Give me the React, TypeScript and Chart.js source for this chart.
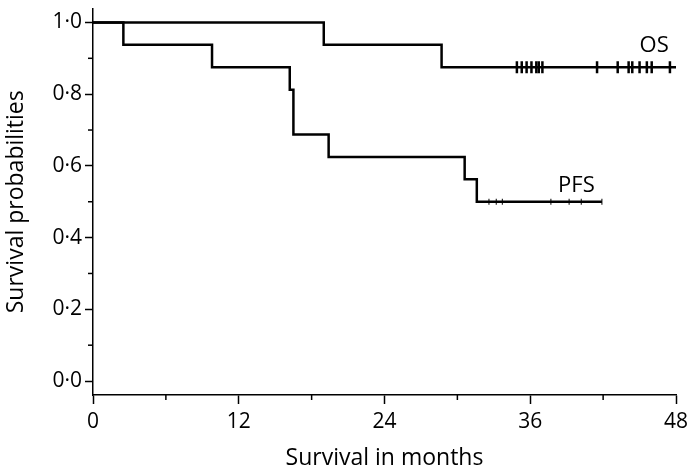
import React, { useEffect, useRef } from "react";
import { Chart, registerables } from "chart.js";

Chart.register(...registerables);

// Overall survival: event times (months) and survival after each event
const osTimes = [0, 19.0, 28.7, 48];
const osSurv = [1.0, 0.9375, 0.875, 0.875];
const osCensorTimes = [34.9, 35.3, 35.7, 36.1, 36.5, 36.7, 37.0, 41.5, 43.2, 44.1, 44.4, 45.0, 45.6, 46.0, 47.5];
const osCensorSurv = 0.875;

// Progression-free survival
const pfsTimes = [0, 2.5, 9.8, 16.2, 16.5, 19.4, 30.6, 31.6, 41.9];
const pfsSurv = [1.0, 0.9375, 0.875, 0.8125, 0.6875, 0.625, 0.5625, 0.5, 0.5];
const pfsCensorTimes = [32.6, 33.2, 33.7, 37.7, 39.2, 40.2, 41.9];
const pfsCensorSurv = 0.5;

const xMajorTicks = [0, 12, 24, 36, 48];
const xMinorTicks = [6, 18, 30, 42];
const yMajorTicks = [0, 0.2, 0.4, 0.6, 0.8, 1.0];
const yMinorTicks = [0.1, 0.3, 0.5, 0.7, 0.9];

const curveLabels = [
  { text: "OS", x: 46.2, y: 0.935 },
  { text: "PFS", x: 39.8, y: 0.545 },
];

const FONT = "'Open Sans', 'Noto Sans', sans-serif";

export default function App() {
  const ref = useRef<HTMLCanvasElement | null>(null);

  useEffect(() => {
    if (!ref.current) return;

    const pts = (xs: number[], ys: number[]) => xs.map((x, i) => ({ x, y: ys[i] }));
    const cens = (xs: number[], y: number) => xs.map((x) => ({ x, y }));

    const extras = {
      id: "extras",
      afterDraw(chart: any) {
        const ctx = chart.ctx;
        const xs = chart.scales.x;
        const ys = chart.scales.y;
        ctx.save();
        ctx.strokeStyle = "#000";
        ctx.lineWidth = 1.5;
        // minor ticks
        xMinorTicks.forEach((v) => {
          const px = xs.getPixelForValue(v);
          ctx.beginPath();
          ctx.moveTo(px, xs.top);
          ctx.lineTo(px, xs.top + 5);
          ctx.stroke();
        });
        yMinorTicks.forEach((v) => {
          const py = ys.getPixelForValue(v);
          ctx.beginPath();
          ctx.moveTo(ys.right, py);
          ctx.lineTo(ys.right - 5, py);
          ctx.stroke();
        });
        // curve labels
        ctx.fillStyle = "#000";
        ctx.font = `22px ${FONT}`;
        ctx.textAlign = "center";
        ctx.textBaseline = "middle";
        curveLabels.forEach((l) => {
          ctx.fillText(l.text, xs.getPixelForValue(l.x), ys.getPixelForValue(l.y));
        });
        ctx.restore();
      },
    };

    const chart = new Chart(ref.current, {
      type: "line",
      data: {
        datasets: [
          {
            label: "OS",
            data: pts(osTimes, osSurv),
            stepped: "before",
            borderColor: "#000",
            borderWidth: 2.5,
            pointRadius: 0,
            fill: false,
          },
          {
            label: "PFS",
            data: pts(pfsTimes, pfsSurv),
            stepped: "before",
            borderColor: "#000",
            borderWidth: 2.5,
            pointRadius: 0,
            fill: false,
          },
          {
            label: "OS censored",
            data: cens(osCensorTimes, osCensorSurv),
            showLine: false,
            pointStyle: "line",
            rotation: 90,
            pointRadius: 6,
            borderColor: "#000",
            pointBorderColor: "#000",
            pointBorderWidth: 2.5,
          },
          {
            label: "PFS censored",
            data: cens(pfsCensorTimes, pfsCensorSurv),
            showLine: false,
            pointStyle: "line",
            rotation: 90,
            pointRadius: 3,
            borderColor: "#000",
            pointBorderColor: "#000",
            pointBorderWidth: 1,
          },
        ],
      },
      options: {
        responsive: false,
        animation: false,
        devicePixelRatio: 1,
        layout: { padding: { left: 0, right: 19, top: 7, bottom: 0 } },
        plugins: {
          legend: { display: false },
          tooltip: { enabled: false },
        },
        scales: {
          x: {
            type: "linear",
            min: 0,
            max: 48,
            afterBuildTicks: (s: any) => {
              s.ticks = xMajorTicks.map((v) => ({ value: v }));
            },
            afterFit: (s: any) => {
              s.height = 78;
              s.paddingLeft = 0;
              s.paddingRight = 0;
            },
            ticks: {
              color: "#000",
              font: { family: FONT, size: 21 },
              padding: 5,
              maxRotation: 0,
              callback: (v: any) => String(v),
            },
            grid: {
              drawOnChartArea: false,
              drawTicks: true,
              tickLength: 9,
              tickWidth: 1.5,
              tickColor: "#000",
            },
            border: { display: true, color: "#000", width: 1.5 },
            title: {
              display: true,
              text: "Survival in months",
              color: "#000",
              font: { family: FONT, size: 23 },
              padding: { top: 0, bottom: 1 },
            },
          },
          y: {
            type: "linear",
            min: -0.0389,
            max: 1.0389,
            afterBuildTicks: (s: any) => {
              s.ticks = yMajorTicks.map((v) => ({ value: v }));
            },
            afterFit: (s: any) => {
              s.width = 93;
              s.paddingTop = 0;
              s.paddingBottom = 0;
            },
            ticks: {
              color: "#000",
              font: { family: FONT, size: 21 },
              padding: 3,
              callback: (v: any) => Number(v).toFixed(1).replace(".", "\u00B7"),
            },
            grid: {
              drawOnChartArea: false,
              drawTicks: true,
              tickLength: 8,
              tickWidth: 1.5,
              tickColor: "#000",
            },
            border: { display: true, color: "#000", width: 1.5 },
            title: {
              display: true,
              text: "Survival probabilities",
              color: "#000",
              font: { family: FONT, size: 23 },
              padding: { top: 3, bottom: 0 },
            },
          },
        },
      },
      plugins: [extras],
    } as any);

    return () => chart.destroy();
  }, []);

  return (
    <div style={{ position: "fixed", left: 0, top: 0, width: 695, height: 473, background: "#fff" }}>
      <canvas ref={ref} width={695} height={473} style={{ width: 695, height: 473, display: "block" }} />
    </div>
  );
}
